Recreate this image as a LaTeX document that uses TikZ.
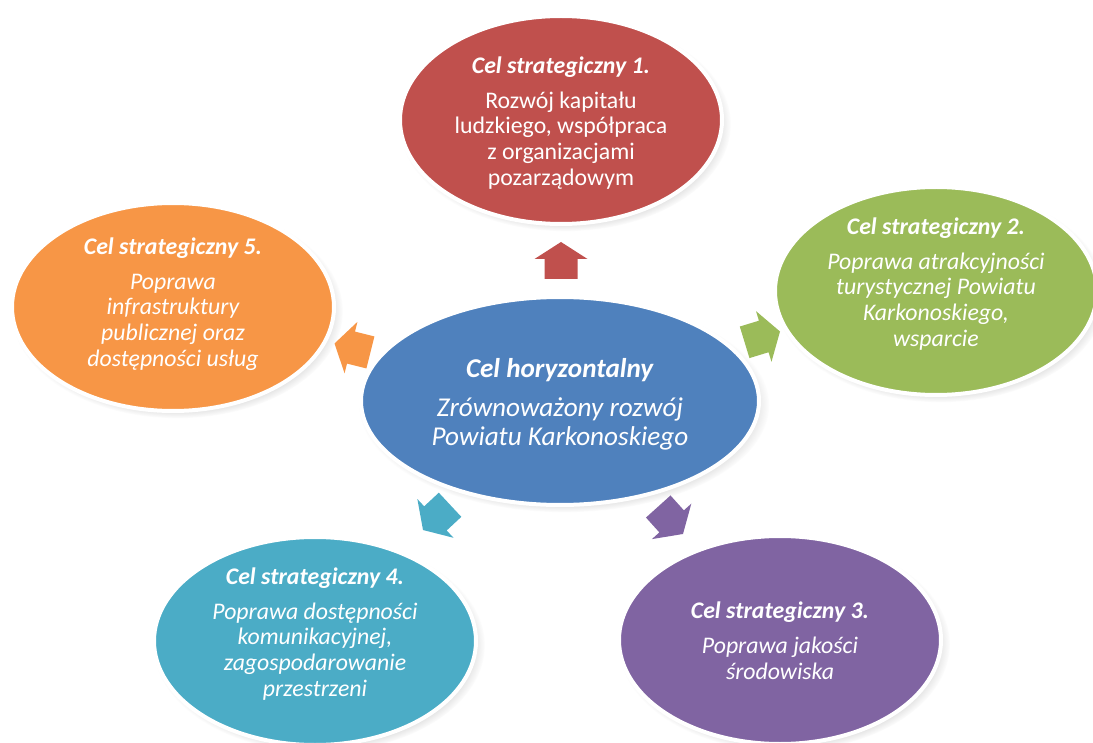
\documentclass[tikz,border=0pt]{standalone}
\usepackage{fontspec}
\setmainfont{Carlito}
\usetikzlibrary{shapes.geometric,shadows}
\definecolor{cred}{HTML}{C0504D}
\definecolor{cgreen}{HTML}{9BBB59}
\definecolor{corange}{HTML}{F79646}
\definecolor{cblue}{HTML}{4F81BD}
\definecolor{cteal}{HTML}{4BACC6}
\definecolor{cpurple}{HTML}{8064A2}
\tikzset{
  goal/.style={ellipse, draw=white, line width=4pt, inner sep=0pt,
    minimum width=322pt, minimum height=208pt,
    circular drop shadow={shadow xshift=4pt, shadow yshift=-4pt, shadow scale=1.03, opacity=0.45}},
  goaltext/.style={text=white, align=center, inner sep=0pt, font=\fontsize{23.8}{25.8}\selectfont},
  maintext/.style={text=white, align=center, inner sep=0pt, font=\fontsize{27.2}{29}\selectfont},
  blockarrow/.pic={\fill[pic actions] (0,0) -- (-17,26.5) -- (-17,16.5) -- (-37,16.5) -- (-37,-16.5) -- (-17,-16.5) -- (-17,-26.5) -- cycle;},
}
\newcommand{\goaltitle}[1]{\textbf{\textit{#1}}}
\begin{document}
\begin{tikzpicture}[x=1pt,y=-1pt]
\useasboundingbox (0,0) rectangle (1093,743);
% ellipses
\node[goal, fill=cred]    (g1) at (561,120) {};
\node[goal, fill=cgreen]  (g2) at (936,291) {};
\node[goal, fill=cpurple] (g3) at (780,640) {};
\node[goal, fill=cteal]   (g4) at (315,641) {};
\node[goal, fill=corange] (g5) at (173,307) {};
\node[goal, fill=cblue, minimum width=398pt, minimum height=208pt] (gc) at (560,401) {};
% texts
\node[goaltext] (t1) at (561,123) {\goaltitle{Cel strategiczny 1.}\\[9pt]Rozwój kapitału\\ludzkiego, współpraca\\z organizacjami\\pozarządowym};
\node[goaltext] (t2) at (936,284) {\goaltitle{Cel strategiczny 2.}\\[9pt]\itshape Poprawa atrakcyjności\\\itshape turystycznej Powiatu\\\itshape Karkonoskiego,\\\itshape wsparcie};
\node[goaltext] (t3) at (780,641) {\goaltitle{Cel strategiczny 3.}\\[9pt]\itshape Poprawa jakości\\\itshape środowiska};
\node[goaltext] (t4) at (315,634) {\goaltitle{Cel strategiczny 4.}\\[9pt]\itshape Poprawa dostępności\\\itshape komunikacyjnej,\\\itshape zagospodarowanie\\\itshape przestrzeni};
\node[goaltext] (t5) at (173,304) {\goaltitle{Cel strategiczny 5.}\\[9pt]\itshape Poprawa\\\itshape infrastruktury\\\itshape publicznej oraz\\\itshape dostępności usług};
\node[maintext] (tc) at (560,404) {\goaltitle{Cel horyzontalny}\\[10pt]\itshape Zrównoważony rozwój\\\itshape Powiatu Karkonoskiego};
% arrows
\pic[fill=cred, rotate=90]     at (561,242) {blockarrow};
\pic[fill=cgreen, rotate=17]   at (780,331.5) {blockarrow};
\pic[fill=cpurple, rotate=-48] at (683,534) {blockarrow};
\pic[fill=cteal, rotate=223]   at (423,530) {blockarrow};
\pic[fill=corange, rotate=166] at (334.5,343.5) {blockarrow};
\end{tikzpicture}
\end{document}
